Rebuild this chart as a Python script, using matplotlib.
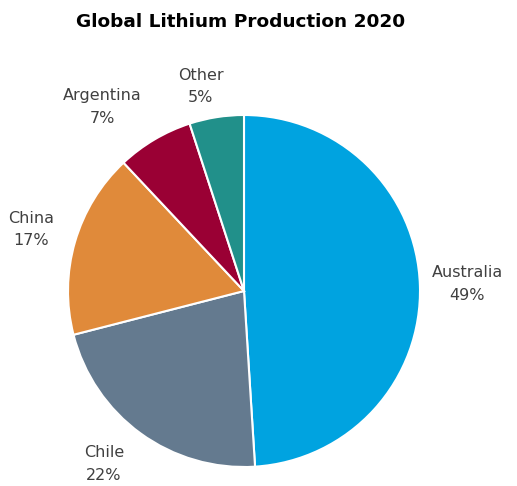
import matplotlib
matplotlib.use("Agg")
import matplotlib.pyplot as plt
import numpy as np

kraje = ["Australia", "Chile", "China", "Argentina", "Other"]
udzialy = [49, 22, 17, 7, 5]
kolory = ["#00A3E0", "#647A8F", "#E08A3A", "#9A0034", "#21908A"]

# odleglosc etykiety od srodka i przesuniecie kata (stopnie) - tylko wyglad
odl_etykiet = [1.27, 1.265, 1.26, 1.32, 1.19]
kat_przes = [0, -3, 0, 7, 3]

fig = plt.figure(figsize=(5.17, 4.86), dpi=100)
# os wykresu dopasowana tak, zeby kolo mialo srodek ok. (244, 291) px
r = 176
ax = fig.add_axes([(244 - r) / 517, (486 - 291 - r) / 486, 2 * r / 517, 2 * r / 486])

wedges, _ = ax.pie(
    udzialy,
    colors=kolory,
    startangle=90,
    counterclock=False,
    wedgeprops=dict(edgecolor="white", linewidth=1.5),
)

for w, k, u, d, dk in zip(wedges, kraje, udzialy, odl_etykiet, kat_przes):
    kat = np.deg2rad((w.theta1 + w.theta2) / 2 + dk)
    ax.text(d * np.cos(kat), d * np.sin(kat), f"{k}\n{u}%",
            ha="center", va="center", fontsize=11.5, color="#404040",
            linespacing=1.6)

ax.set_xlim(-1, 1)
ax.set_ylim(-1, 1)
ax.set_aspect("equal")

fig.text(241 / 517, 1 - 22 / 486, "Global Lithium Production 2020",
         ha="center", va="center", fontsize=13.3, fontweight="bold", color="black")

fig.savefig("out.png", dpi=100)
